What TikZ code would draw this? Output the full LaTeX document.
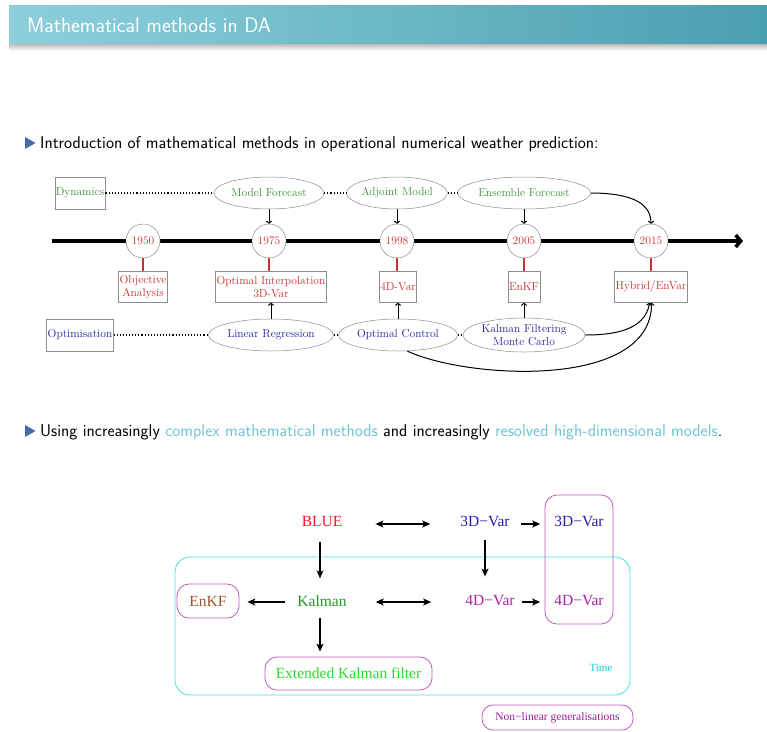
\documentclass[tikz,border=0pt]{standalone}
\usepackage{fontspec}
\newfontfamily\timesfont{Liberation Serif}
\usetikzlibrary{arrows.meta,shapes.geometric,shadings}

\definecolor{barL}{RGB}{141,208,220}
\definecolor{barR}{RGB}{74,159,176}
\definecolor{bullet}{RGB}{72,104,170}
\definecolor{hl}{RGB}{110,196,212}
\definecolor{tred}{RGB}{204,45,45}
\definecolor{dgreen}{RGB}{58,143,53}
\definecolor{oblue}{RGB}{30,30,160}
\definecolor{boxgray}{RGB}{140,140,140}
\definecolor{blueT}{RGB}{255,20,40}
\definecolor{var3}{RGB}{34,34,170}
\definecolor{var4}{RGB}{170,34,170}
\definecolor{kalman}{RGB}{34,150,34}
\definecolor{ekf}{RGB}{40,220,40}
\definecolor{enkf}{RGB}{160,82,45}
\definecolor{frameM}{RGB}{190,90,190}
\definecolor{frameC}{RGB}{70,222,222}
\definecolor{timeC}{RGB}{30,200,210}
\definecolor{nonlin}{RGB}{150,30,150}

\tikzset{
  tlfont/.style={font=\fontsize{11.5}{13.5}\selectfont},
  yearc/.style={circle, draw=boxgray, line width=0.5pt, fill=white, minimum size=34pt,
    inner sep=0pt, text=tred, tlfont},
  evbox/.style={draw=boxgray, line width=0.6pt, fill=white, text=tred, align=center,
    inner xsep=1pt, inner ysep=1pt, minimum height=31pt, tlfont},
  srcbox/.style={draw=boxgray, line width=0.6pt, inner xsep=1pt, minimum height=32pt, tlfont},
  dynell/.style={ellipse, draw=boxgray, line width=0.5pt, text=dgreen, inner sep=0pt,
    minimum height=32pt, tlfont},
  optell/.style={ellipse, draw=boxgray, line width=0.5pt, text=oblue, inner sep=0pt,
    minimum height=32pt, align=center, tlfont},
  dotlink/.style={dotted, line width=1.1pt},
  tarrow/.style={-{To[length=3pt,width=6pt]}, line width=1pt},
  redlink/.style={tred, line width=1.1pt},
  dtext/.style={inner sep=0pt, font=\timesfont\fontsize{15.5}{18}\selectfont},
  darrow/.style={-{Stealth[length=8pt,width=7pt,inset=2pt]}, line width=1.1pt},
  dbarrow/.style={{Stealth[length=8pt,width=7pt,inset=2pt]}-{Stealth[length=8pt,width=7pt,inset=2pt]}, line width=1.1pt},
  rframe/.style={draw=frameM, line width=0.8pt, rounded corners=12pt},
  bodytext/.style={anchor=base west, inner sep=0pt, font=\sffamily\fontsize{17.1}{20}\selectfont},
}

\begin{document}
\begin{tikzpicture}[x=1pt,y=-1pt]
\useasboundingbox (0,0) rectangle (767,731);

% title bar with its drop shadow
\shade[top color=black!30, bottom color=white] (9,43) rectangle (767,51);
\shade[left color=barL, right color=barR] (9,5) rectangle (767,43);
\node[anchor=base west, inner sep=0pt, text=white, font=\sffamily\fontsize{21}{25}\selectfont]
  (title) at (27,32) {Mathematical methods in DA};

% first bullet
\fill[bullet] (25,137) -- (35.5,143) -- (25,149) -- cycle;
\node[bodytext] (intro) at (40,148)
  {Introduction of mathematical methods in operational numerical weather prediction:};

% ---------- time line ----------
\coordinate (tlstart) at (52,241);
\coordinate (tlend) at (743,241);
\draw[line width=3.6pt, -{Straight Barb[length=5pt,width=12pt]}] (tlstart) -- (tlend);

\node[yearc] (y50) at (143,241) {1950};
\node[yearc] (y75) at (269,241) {1975};
\node[yearc] (y98) at (397,241) {1998};
\node[yearc] (y05) at (524,241) {2005};
\node[yearc] (y15) at (651,241) {2015};

\node[evbox, minimum width=48pt] (oa) at (143,287) {Objective\\Analysis};
\node[evbox, minimum width=110pt] (oi) at (271,287) {Optimal Interpolation\\3D-Var};
\node[evbox, minimum width=36pt] (fdv) at (398,287) {4D-Var};
\node[evbox, minimum width=32pt] (enkfb) at (524,287) {EnKF};
\node[evbox, minimum width=73pt] (hyb) at (651,287) {Hybrid/EnVar};

\foreach \y/\b in {y50/oa, y75/oi, y98/fdv, y05/enkfb, y15/hyb}
  \draw[redlink] (\y.south) -- (\y.south |- \b.north);

% dynamics row
\node[srcbox, text=dgreen, minimum width=50pt] (dyn) at (80,193) {Dynamics};
\node[dynell, minimum width=110pt] (mf) at (269,193) {Model Forecast};
\node[dynell, minimum width=100pt] (am) at (397,193) {Adjoint Model};
\node[dynell, minimum width=133pt] (ef) at (524,193) {Ensemble Forecast};

\draw[dotlink] (dyn) -- (mf);
\draw[dotlink] (mf) -- (am);
\draw[dotlink] (am) -- (ef);

\draw[tarrow] (mf.south) -- (y75.north);
\draw[tarrow] (am.south) -- (y98.north);
\draw[tarrow] (ef.south) -- (y05.north);
\draw[tarrow] (ef.east) to[out=0, in=90] (y15.north);

% optimisation row
\node[srcbox, text=oblue, minimum width=66pt] (opt) at (80,335) {Optimisation};
\node[optell, minimum width=125pt] (lr) at (271,335) {Linear Regression};
\node[optell, minimum width=119pt] (oc) at (398,335) {Optimal Control};
\node[optell, minimum width=122pt, minimum height=34pt] (kf) at (524,335) {Kalman Filtering\\Monte Carlo};

\draw[dotlink] (opt) -- (lr);
\draw[dotlink] (lr) -- (oc);
\draw[dotlink] (oc) -- (kf);

\draw[tarrow] (lr.north) -- (oi.south);
\draw[tarrow] (oc.north) -- (fdv.south);
\draw[tarrow] (kf.north) -- (enkfb.south);
\draw[tarrow] (kf.east) to[out=0, in=-100] (hyb.-95);
\draw[tarrow] (oc.-60) .. controls +(60,28) and +(0,87) .. (hyb.-88);

% second bullet
\fill[bullet] (25,425) -- (35.5,431) -- (25,437) -- cycle;
\node[bodytext] (using) at (40,436)
  {Using increasingly \textcolor{hl}{complex mathematical methods} and increasingly
   \textcolor{hl}{resolved high-dimensional models}.};

% ---------- method family diagram ----------
\draw[frameC, line width=0.8pt, rounded corners=15pt] (175,557) rectangle (630,695);
\node[rframe, minimum width=68pt, minimum height=129pt] (nlframe) at (579,559.5) {};

\node[dtext, text=blueT] (blue) at (322,521) {BLUE};
\node[dtext, text=var3] (v3) at (485,521) {3D−Var};
\node[dtext, text=var3] (v3n) at (579,521) {3D−Var};
\node[dtext, text=kalman] (kal) at (322,601) {Kalman};
\node[dtext, text=var4] (v4) at (490,601) {4D−Var};
\node[dtext, text=var4] (v4n) at (579,601) {4D−Var};
\node[dtext, text=enkf, rframe, minimum width=62pt, minimum height=34pt] (enkf) at (208,601) {EnKF};
\node[dtext, text=ekf, rframe, minimum width=167pt, minimum height=33pt] (ext) at (348.5,673.5) {Extended Kalman filter};
\node[text=timeC, inner sep=0pt, font=\timesfont\fontsize{11}{13}\selectfont] (time) at (601,668) {Time};
\node[text=nonlin, draw=frameM, line width=0.8pt, rounded corners=11pt, minimum width=151pt,
  minimum height=25pt, inner sep=0pt, font=\timesfont\fontsize{11.5}{13}\selectfont]
  (nl) at (557.5,717.5) {Non−linear generalisations};

\draw[dbarrow, shorten <=33pt, shorten >=30pt] ([yshift=-3pt]blue.east) -- ([yshift=-3pt]v3.west);
\draw[dbarrow, shorten <=29pt, shorten >=34pt] ([yshift=-1pt]kal.east) -- ([yshift=-1pt]v4.west);
\draw[darrow, shorten <=11pt, shorten >=14pt] ([yshift=-3pt]v3.east) -- ([yshift=-3pt]v3n.west);
\draw[darrow, shorten <=7pt, shorten >=14pt] ([yshift=-1pt]v4.east) -- ([yshift=-1pt]v4n.west);
\draw[darrow, shorten <=16pt, shorten >=17pt] ([xshift=-2pt]blue.south) -- ([xshift=-2pt]kal.north);
\draw[darrow, shorten <=14pt, shorten >=19pt] (v3.south) -- (v3.south |- v4.north);
\draw[darrow, shorten <=12pt, shorten >=8pt] ([yshift=-1pt]kal.west) -- ([yshift=-1pt]kal.west -| enkf.east);
\draw[darrow, shorten <=11pt, shorten >=5pt] ([xshift=-2pt]kal.south) -- ([xshift=-2pt]kal.south |- ext.north);
\end{tikzpicture}
\end{document}
